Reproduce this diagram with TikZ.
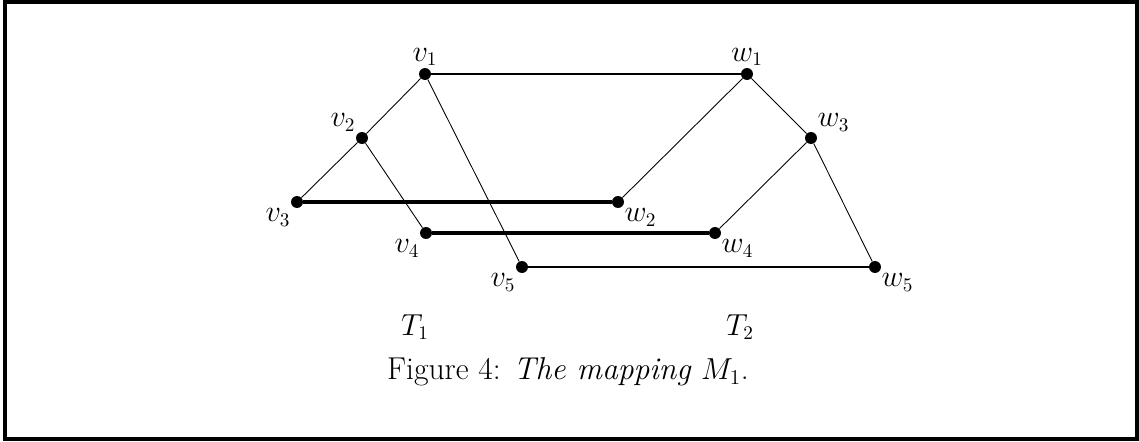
\documentclass[tikz,border=0pt]{standalone}
\usepackage{amsmath}
\usepackage{tikz}
\usetikzlibrary{positioning}

\tikzset{
    vtx/.style={circle, fill=black, inner sep=0pt, minimum size=6.8pt},
    lbl/.style={font=\fontsize{16}{19}\selectfont, inner sep=1pt},
    treeedge/.style={line width=0.5pt},
    mapedge/.style={line width=1.5pt}
}

\begin{document}
\begin{tikzpicture}[x=0.02cm, y=-0.02cm]
    \useasboundingbox (0,0) rectangle (1139,441);
    \draw[line width=2.3pt] (5,1.5) rectangle (1137.5,439);

    % left tree T1
    \node[vtx, label={[lbl]above:$v_1$}] (v1) at (425,74) {};
    \node[vtx, label={[lbl]above left:$v_2$}] (v2) at (362,138) {};
    \node[vtx, label={[lbl]below left:$v_3$}] (v3) at (297,202) {};
    \node[vtx, label={[lbl]below left:$v_4$}] (v4) at (426,233) {};
    \node[vtx, label={[lbl]below left:$v_5$}] (v5) at (522,267) {};

    % right tree T2
    \node[vtx, label={[lbl]above:$w_1$}] (w1) at (747,74) {};
    \node[vtx, label={[lbl]below right:$w_2$}] (w2) at (618,202) {};
    \node[vtx, label={[lbl]above right:$w_3$}] (w3) at (811,138) {};
    \node[vtx, label={[lbl]below right:$w_4$}] (w4) at (715,233) {};
    \node[vtx, label={[lbl]below right:$w_5$}] (w5) at (875,267) {};

    % tree edges
    \foreach \a/\b in {v1/v2, v2/v3, v2/v4, v1/v5, w1/w2, w1/w3, w3/w4, w3/w5} {
        \draw[treeedge] (\a) -- (\b);
    }

    % the mapping
    \draw[mapedge] (v1) -- (w1);
    \draw[mapedge, line width=2pt] (v3) -- (w2);
    \draw[mapedge, line width=2pt] (v4) -- (w4);
    \draw[mapedge] (v5) -- (w5);

    \node[lbl] (t1) at (415,327) {$T_1$};
    \node[lbl] (t2) at (740,327) {$T_2$};
    \node[font=\fontsize{18}{22}\selectfont] (cap) at (568,372)
        {Figure 4: \textit{The mapping} $M_1$.};
\end{tikzpicture}
\end{document}
